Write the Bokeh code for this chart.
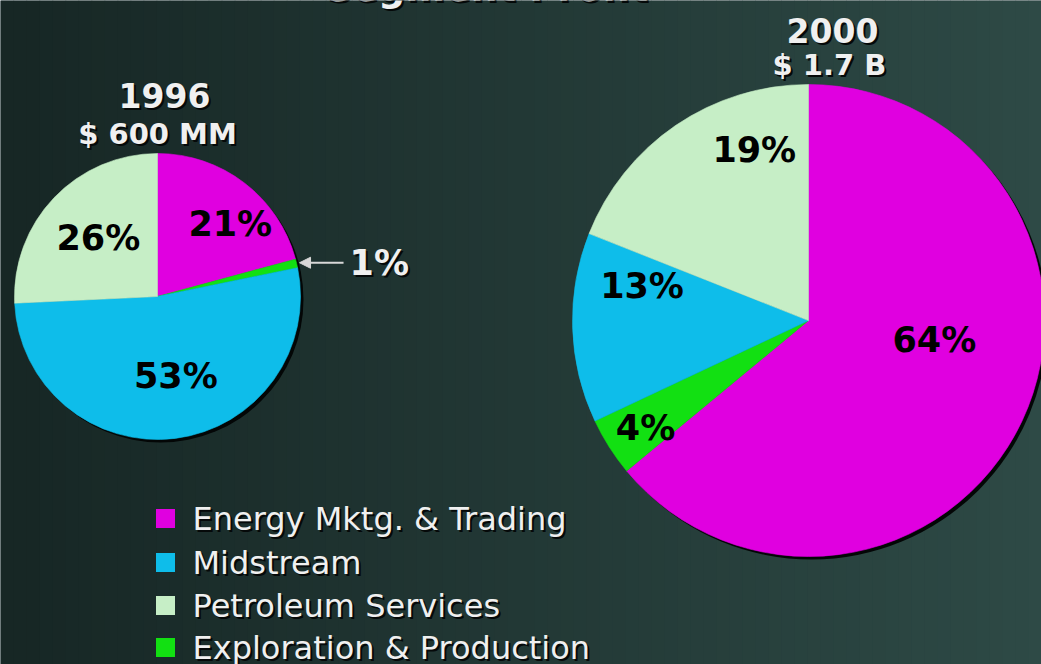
import numpy as np
from bokeh.plotting import figure
from bokeh.models import Range1d, Arrow, NormalHead
from bokeh.core.properties import value
from bokeh.embed import file_html
from bokeh.resources import INLINE

# ---------------- data ----------------
title = "Segment Profit"
segments = ["Energy Mktg. & Trading", "Midstream", "Petroleum Services", "Exploration & Production"]
seg_colors = ["#E000E0", "#0EBDEA", "#C6EEC6", "#12E012"]

# slices clockwise from 12 o'clock
slices_1996 = ["Energy Mktg. & Trading", "Exploration & Production", "Midstream", "Petroleum Services"]
pct_1996 = [21, 1, 53, 26]
slices_2000 = ["Energy Mktg. & Trading", "Exploration & Production", "Midstream", "Petroleum Services"]
pct_2000 = [64, 4, 13, 19]

years = ["1996", "2000"]
totals = ["$ 600 MM", "$ 1.7 B"]

# ---------------- layout ----------------
W, H = 1041, 664
FONT = value("DejaVu Sans")

p = figure(width=W, height=H, x_range=Range1d(0, W), y_range=Range1d(0, H),
           output_backend="svg", toolbar_location=None, min_border=0)
p.axis.visible = False
p.grid.visible = False
p.outline_line_color = None
p.background_fill_color = "#22393a"
p.border_fill_color = "#22393a"

# background gradient (dark left -> lighter teal right)
n = 80
xs = np.linspace(0, W, n + 1)
c0 = np.array([0x17, 0x27, 0x25])
c1 = np.array([0x2E, 0x4A, 0x46])
bg_cols = []
for i in range(n):
    t = (i / (n - 1)) ** 1.0
    c = (c0 + (c1 - c0) * t).astype(int)
    bg_cols.append("#%02x%02x%02x" % tuple(c))
p.quad(left=xs[:-1], right=xs[1:] + 0.6, bottom=0, top=H, fill_color=bg_cols, line_color=None)


def shadow_text(x, y, txt, size, bold=True, align="center", color="#F0F0F0", baseline="middle"):
    style = "bold" if bold else "normal"
    p.text(x=x, y=y, text=txt, text_font=FONT, text_font_size=size, text_font_style=style,
           text_align=align, text_baseline=baseline, text_color="#050909",
           x_offset=2, y_offset=2)
    p.text(x=x, y=y, text=txt, text_font=FONT, text_font_size=size, text_font_style=style,
           text_align=align, text_baseline=baseline, text_color=color)


def pie(cx, cy, R, names, pcts, lab_r, lab_ang):
    fr = np.array(pcts, dtype=float) / sum(pcts)
    cum = np.concatenate([[0], np.cumsum(fr)])
    start = np.pi / 2 - 2 * np.pi * cum[:-1]
    end = np.pi / 2 - 2 * np.pi * cum[1:]
    cols = [seg_colors[segments.index(nm)] for nm in names]
    p.circle(x=[cx + 3], y=[cy - 3], radius=R, fill_color="#030606", line_color=None)
    p.wedge(x=cx, y=cy, radius=R, start_angle=start, end_angle=end, direction="clock",
            fill_color=cols, line_color=cols, line_width=0.6)
    mids = (cum[:-1] + cum[1:]) / 2 * 360
    for i, v in enumerate(pcts):
        if lab_r[i] is None:
            continue
        a = np.deg2rad(lab_ang[i])
        p.text(x=[cx + lab_r[i] * R * np.sin(a)], y=[cy + lab_r[i] * R * np.cos(a)],
               text=[f"{v}%"], text_font=FONT, text_font_size="35px", text_font_style="bold",
               text_align="center", text_baseline="middle", text_color="#000000")
    return mids


# title (mostly above the visible area, as in the original)
shadow_text([486], [H - 9], [title], "38px", baseline="bottom")

# 1996 pie
cx1, cy1, R1 = 157, 368, 143
mids1 = pie(cx1, cy1, R1, slices_1996, pct_1996,
            [0.72, None, 0.57, 0.58], [45, None, 167, 314.5])
# external label for the small slice
k = slices_1996.index("Exploration & Production")
a = np.deg2rad(mids1[k])
tipx, tipy = cx1 + (R1 + 3) * np.sin(a), cy1 + (R1 + 3) * np.cos(a)
p.add_layout(Arrow(end=NormalHead(size=11, fill_color="#D8D8D8", line_color="#D8D8D8"),
                   x_start=tipx + 44, y_start=tipy, x_end=tipx, y_end=tipy,
                   line_color="#D8D8D8", line_width=2))
shadow_text([tipx + 50], [tipy], [f"{pct_1996[k]}%"], "35px", align="left")

# 2000 pie
cx2, cy2, R2 = 808, 344, 236
pie(cx2, cy2, R2, slices_2000, pct_2000,
    [0.54, 0.826, 0.72, 0.76], [99, 236.7, 281.6, 342.4])

# headers
shadow_text([164, 832], [569, 634], years, "33px")
shadow_text([157, 829], [531, 600], totals, "29px")

# legend
leg_y = [146, 102, 59, 17]
p.rect(x=[165] * 4, y=leg_y, width=19, height=19, fill_color=seg_colors, line_color=None)
shadow_text([192] * 4, leg_y, segments, "32px", bold=False, align="left")

open("out.html", "w").write(file_html(p, INLINE))
